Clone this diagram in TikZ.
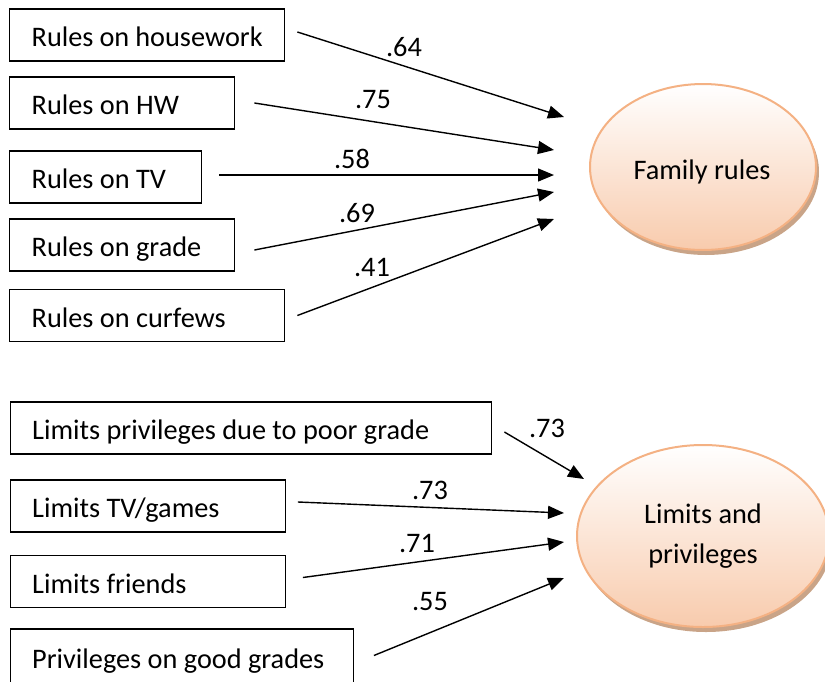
\documentclass[tikz,border=0pt]{standalone}
\usepackage{fontspec}
\setmainfont{Carlito}
\usetikzlibrary{arrows.meta,shapes.geometric,shadows}

\definecolor{rahmen}{HTML}{F4B183}
\definecolor{pfirsich}{HTML}{F8CBAD}
\definecolor{schatten}{HTML}{C9A488}

\hyphenpenalty=10000

\tikzset{
	kasten/.style={draw, line width=1.4pt, inner xsep=22pt, inner ysep=0pt, minimum height=52pt, text height=27pt, text depth=4pt, align=flush left, anchor=west},
	faktor/.style={ellipse, draw=rahmen, line width=2pt, top color=white, bottom color=pfirsich, align=center, inner sep=0pt,
		drop shadow={shadow xshift=3pt, shadow yshift=-5pt, fill=schatten, opacity=1}},
	pfeil/.style={line width=1.4pt, -{Triangle[length=16pt, width=13pt]}},
	wert/.style={inner sep=0pt}
}

\begin{document}
\begin{tikzpicture}[x=1pt, y=-1pt, font=\fontsize{28.3}{40}\selectfont]
	\useasboundingbox (0,0) rectangle (825,681); % Rand um Grafik
	
	% Familienregeln
	\node[kasten, text width=231pt] (hausarbeit) at (9,35) {Rules on housework};
	\node[kasten, text width=181pt] (hw) at (9,103) {Rules on HW};
	\node[kasten, text width=148pt] (tv) at (9,177) {Rules on TV};
	\node[kasten, text width=181pt] (note) at (9,245) {Rules on grade};
	\node[kasten, text width=231pt] (ausgang) at (9,315.5) {Rules on curfews};
	
	\node[faktor, minimum width=226pt, minimum height=166pt] (regeln) at (703,167) {};
	\node (regelntext) at (702,172) {Family rules};
	
	\coordinate (e1) at (564,117);
	\coordinate (e2) at (554,150);
	\coordinate (e3) at (554,175);
	\coordinate (e4) at (554,192);
	\coordinate (e5) at (554,219);
	
	\draw[pfeil] ([shift={(12,-3)}]hausarbeit.east) -- (e1);
	\draw[pfeil] ([shift={(19,0)}]hw.east) -- (e2);
	\draw[pfeil] ([shift={(17,-2)}]tv.east) -- (e3);
	\draw[pfeil] ([shift={(19,5)}]note.east) -- (e4);
	\draw[pfeil] ([shift={(12,0)}]ausgang.east) -- (e5);
	
	\node[wert] (w1) at (404,47) {.64};
	\node[wert] (w2) at (373,100) {.75};
	\node[wert] (w3) at (352,159) {.58};
	\node[wert] (w4) at (357,213) {.69};
	\node[wert] (w5) at (372,267) {.41};
	
	% Grenzen und Privilegien
	\node[kasten, text width=437.5pt] (schlecht) at (9.5,428) {Limits privileges due to poor grade};
	\node[kasten, text width=231pt] (spiele) at (9.5,506) {Limits TV/games};
	\node[kasten, text width=231pt] (freunde) at (9.5,581.5) {Limits friends};
	\node[kasten, text width=299pt, minimum height=55pt] (gut) at (9.5,656.5) {Privileges on good grades};
	
	\node[faktor, minimum width=252pt, minimum height=182pt] (grenzen) at (703,536) {Limits and\\privileges};
	
	\coordinate (eA) at (584,479);
	\coordinate (eB) at (564,513);
	\coordinate (eC) at (564,542);
	\coordinate (eD) at (564,578);
	
	\draw[pfeil] ([shift={(12,4)}]schlecht.east) -- (eA);
	\draw[pfeil] ([shift={(12,-4)}]spiele.east) -- (eB);
	\draw[pfeil] ([shift={(17,-4)}]freunde.east) -- (eC);
	\draw[pfeil] ([shift={(20,-1)}]gut.east) -- (eD);
	
	\node[wert] (wA) at (547,428) {.73};
	\node[wert] (wB) at (430,490) {.73};
	\node[wert] (wC) at (417,543) {.71};
	\node[wert] (wD) at (430,602) {.55};
	
	%\draw[help lines, step=50] (0,0) grid (825,681);
\end{tikzpicture}
\end{document}
